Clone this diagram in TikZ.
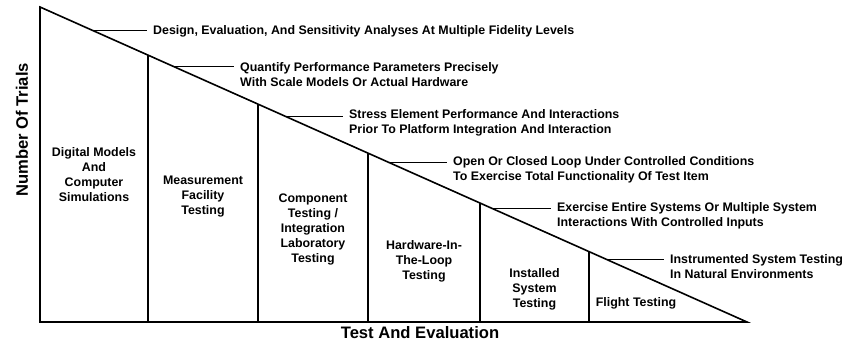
\documentclass[tikz,border=0pt]{standalone}
\usepackage{fontspec}
\setmainfont{Liberation Sans}
\tikzset{
  stage/.style={align=center, inner sep=0pt, font=\bfseries\fontsize{12.4}{15}\selectfont},
  note/.style={anchor=west, align=left, inner xsep=6pt, inner ysep=0pt, font=\bfseries\fontsize{12.4}{15}\selectfont},
  axislabel/.style={font=\bfseries\fontsize{16.6}{20}\selectfont},
  leader/.style={line width=0.9pt},
  divider/.style={line width=1.2pt},
}
\begin{document}
\begin{tikzpicture}[x=1pt,y=-1pt]
	\useasboundingbox (0,0) rectangle (844,345);
	\coordinate (top) at (40,7);
	\coordinate (bl) at (40,322);
	\coordinate (br) at (747,322);
	\draw[line width=1.6pt, line join=miter] (top) -- (br) -- (bl) -- cycle;

	\path (top) -- (br)
		coordinate[pos=0.1528] (d1) coordinate[pos=0.3083] (d2) coordinate[pos=0.4639] (d3)
		coordinate[pos=0.6223] (d4) coordinate[pos=0.7765] (d5)
		coordinate[pos=0.075] (h1) coordinate[pos=0.188] (h2) coordinate[pos=0.3465] (h3)
		coordinate[pos=0.495] (h4) coordinate[pos=0.639] (h5) coordinate[pos=0.802] (h6);

	\foreach \d in {d1,d2,d3,d4,d5}
		\draw[divider] (\d) -- (\d |- bl);

	\node[stage] (digital) at (94,174.5) {Digital Models\\And\\Computer\\Simulations};
	\node[stage] (measure) at (203,197) {Measurement\\Facility\\Testing};
	\node[stage] (component) at (313,229) {Component\\Testing /\\Integration\\Laboratory\\Testing};
	\node[stage] (hitl) at (424,261) {Hardware-In-\\The-Loop\\Testing};
	\node[stage] (installed) at (534.5,289) {Installed\\System\\Testing};
	\node[stage] (flight) at (636,303.3) {Flight Testing};

	\node[note] (n1) at (147,31) {Design, Evaluation, And Sensitivity Analyses At Multiple Fidelity Levels};
	\node[note] (n2) at (234,74.5) {Quantify Performance Parameters Precisely\\With Scale Models Or Actual Hardware};
	\node[note] (n3) at (343,122.5) {Stress Element Performance And Interactions\\Prior To Platform Integration And Interaction};
	\node[note] (n4) at (447,170) {Open Or Closed Loop Under Controlled Conditions\\To Exercise Total Functionality Of Test Item};
	\node[note] (n5) at (551,216) {Exercise Entire Systems Or Multiple System\\Interactions With Controlled Inputs};
	\node[note] (n6) at (664,266.5) {Instrumented System Testing\\In Natural Environments};

	\foreach \i in {1,...,6}
		\draw[leader] (h\i) -- (h\i -| n\i.west);

	\node[axislabel, rotate=90] (trials) at (22,130) {Number Of Trials};
	\node[axislabel] (eval) at (420,333) {Test And Evaluation};
\end{tikzpicture}
\end{document}
